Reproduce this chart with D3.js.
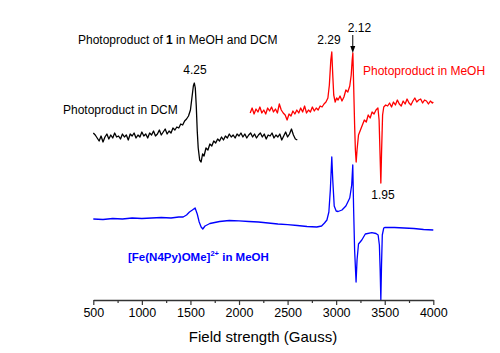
<!DOCTYPE html>
<html>
<head>
<meta charset="utf-8">
<script src="https://cdn.jsdelivr.net/npm/d3@7"></script>
<style>
  body { margin: 0; background: #fff; }
  text { font-family: "Liberation Sans", Arial, sans-serif; }
</style>
</head>
<body>
<script>
// Field positions (Gauss) and intensities (arbitrary units)
const dcmField = [500, 520, 540, 560, 580, 600, 620, 640, 660, 680, 700, 720, 740, 760, 780, 800, 820, 840, 860, 880,
    900, 920, 940, 960, 980, 1000, 1020, 1040, 1060, 1080, 1100, 1120, 1140, 1160, 1180, 1200, 1220, 1240, 1260, 1280,
    1300, 1320, 1340, 1360, 1380, 1400, 1420, 1440, 1460, 1480, 1500, 1515, 1530, 1540, 1550, 1560, 1570, 1580, 1595, 1610,
    1625, 1640, 1660, 1680, 1700, 1720, 1740, 1760, 1780, 1800, 1820, 1840, 1860, 1880, 1900, 1920, 1940, 1960, 1980, 2000,
    2020, 2040, 2060, 2080, 2100, 2120, 2140, 2160, 2180, 2200, 2220, 2240, 2260, 2280, 2300, 2320, 2340, 2360, 2380, 2400,
    2420, 2440, 2460, 2480, 2500, 2520, 2540, 2560, 2580, 2600];
const dcmSignal = [3, 1, -2, -5, 0, -6, -1, 2, -3, 1, -2, 3, -1, 0, -3, 2, -1, 1, -4, 2,
    0, 3, -2, 1, -1, 4, 0, 2, -2, 3, 1, 5, 0, 2, 6, 1, 4, 7, 2, 5,
    3, 8, 6, 9, 8, 12, 11, 15, 17, 20, 26, 38, 50, 53, 48, 30, 5, -12, -24, -26,
    -18, -20, -12, -14, -8, -10, -5, -7, -3, -5, -1, -4, 0, -2, 2, -1, 1, -2, 2, 0,
    3, -1, 2, -2, 1, 3, -1, 2, -2, 1, 3, -1, 2, -3, 1, 0, 3, -2, 1, -1,
    2, -4, 0, 4, -1, 2, 7, 1, -3, -4];

const meohField = [2115, 2135, 2155, 2175, 2195, 2215, 2235, 2255, 2275, 2295, 2315, 2335, 2355, 2375, 2395, 2415, 2435, 2455, 2475, 2495,
    2515, 2535, 2555, 2575, 2595, 2615, 2635, 2655, 2675, 2695, 2715, 2735, 2755, 2775, 2795, 2815, 2835, 2855, 2875, 2895,
    2915, 2930, 2945, 2955, 2965, 2975, 2990, 3005, 3020, 3040, 3060, 3080, 3100, 3120, 3140, 3155, 3165, 3172, 3180, 3190,
    3198, 3206, 3215, 3230, 3250, 3270, 3290, 3310, 3330, 3350, 3370, 3390, 3410, 3430, 3442, 3452, 3460, 3468, 3478, 3490,
    3510, 3530, 3550, 3570, 3590, 3610, 3630, 3650, 3670, 3690, 3710, 3730, 3750, 3770, 3790, 3810, 3830, 3850, 3870, 3890,
    3910, 3930, 3950, 3970, 3990, 4000];
const meohSignal = [-3, 2, -4, 1, -2, 3, -3, 0, -4, 2, -1, 3, -2, 1, -3, 6, 0, -3, -5, -10,
    -4, -6, -1, -4, 0, -3, 2, -2, 4, -3, 0, -2, 3, -1, 2, 0, 4, 3, 6, 8,
    12, 25, 50, 58, 35, 15, 8, 12, 10, 14, 9, 13, 20, 18, 24, 35, 50, 57, 25, -15,
    -40, -52, -40, -25, -20, -15, -10, -12, -5, -8, -2, -4, 0, 2, -10, -45, -73, -40, -5, 3,
    5, 4, 7, 3, 8, 5, 10, 6, 4, 9, 6, 11, 7, 5, 9, 12, 8, 10, 11, 7,
    10, 9, 6, 9, 7, 8];

const refField = [500, 600, 700, 800, 900, 1000, 1100, 1200, 1300, 1380, 1425, 1460, 1490, 1520, 1548, 1570, 1590, 1610, 1627, 1650,
    1700, 1750, 1800, 1900, 2000, 2100, 2200, 2300, 2400, 2500, 2600, 2700, 2800, 2850, 2880, 2905, 2925, 2940, 2955, 2965,
    2980, 3000, 3020, 3060, 3100, 3140, 3160, 3171, 3180, 3190, 3205, 3215, 3230, 3264, 3300, 3367, 3410, 3432, 3445, 3453,
    3460, 3467, 3475, 3490, 3504, 3550, 3600, 3700, 3800, 3900, 4000];
const refSignal = [1, 0.5, 1.5, 1, 2, 1.5, 2, 2.5, 2, 3, 3, 5, 8, 10, 12, 6, -2, -7, -9, -6,
    -3.5, -2.5, -1.5, -0.5, -0.8, -1.5, -2, -3, -4, -4.7, -5.5, -6.5, -7, -6, -3, 0, 8, 30, 63, 40,
    14, 9, 8.5, 10, 14, 22, 35, 55, 10, -30, -62, -40, -24, -20, -14, -12.7, -13.5, -15, -25, -50,
    -80, -45, -15, -8, -7.3, -7.5, -7.5, -8, -8.5, -9.5, -10];

// vertical offsets used to stack the spectra
const offsets = [84, 110, 0];
const colors = ['#000000', '#ff0000', '#0000ff'];

const xTicks = [500, 1000, 1500, 2000, 2500, 3000, 3500, 4000];
const xMinorTicks = [750, 1250, 1750, 2250, 2750, 3250, 3750];

const width = 500;
const height = 353;

const svg = d3.select('body').append('svg')
    .attr('width', width)
    .attr('height', height);

const x = d3.scaleLinear().domain([500, 4000]).range([93.3, 433.3]);
const y = d3.scaleLinear().domain([-100, 200]).range([320, 20]);

const series = [
    { field: dcmField, signal: dcmSignal },
    { field: meohField, signal: meohSignal },
    { field: refField, signal: refSignal }
];

const line = d3.line()
    .x(d => x(d[0]))
    .y(d => y(d[1]));

// Draw the spectra
series.forEach((s, i) => {
    const pts = s.field.map((f, j) => [f, s.signal[j] + offsets[i]]);
    svg.append('path')
        .datum(pts)
        .attr('fill', 'none')
        .attr('stroke', colors[i])
        .attr('stroke-width', 1.3)
        .attr('stroke-linejoin', 'round')
        .attr('d', line);
});

// Bottom axis, minor ticks first
const axisY = 300;
svg.append('g')
    .attr('transform', 'translate(0,' + axisY + ')')
    .call(d3.axisBottom(x).tickValues(xMinorTicks).tickSize(3).tickFormat(''))
    .call(g => g.select('.domain').remove())
    .selectAll('line').attr('stroke', '#333').attr('stroke-width', 1.2);

const xAxis = svg.append('g')
    .attr('transform', 'translate(0,' + axisY + ')')
    .call(d3.axisBottom(x).tickValues(xTicks).tickFormat(d3.format('d'))
        .tickSize(5).tickSizeOuter(0).tickPadding(3));
xAxis.select('.domain').attr('stroke', '#333').attr('stroke-width', 1.3);
xAxis.selectAll('line').attr('stroke', '#333').attr('stroke-width', 1.2);
xAxis.selectAll('text')
    .attr('fill', '#000')
    .style('font-size', '12.5px')
    .style('font-family', '"Liberation Sans", Arial, sans-serif');

svg.append('text')
    .attr('x', 263)
    .attr('y', 341.5)
    .attr('text-anchor', 'middle')
    .style('font-size', '15px')
    .text('Field strength (Gauss)');

// Annotations
const title = svg.append('text')
    .attr('x', 78)
    .attr('y', 44)
    .style('font-size', '12px');
title.append('tspan').text('Photoproduct of ');
title.append('tspan').style('font-weight', 'bold').text('1');
title.append('tspan').text(' in MeOH and DCM');

svg.append('text')
    .attr('x', 63).attr('y', 114)
    .style('font-size', '12px')
    .text('Photoproduct in DCM');

svg.append('text')
    .attr('x', 363).attr('y', 75)
    .attr('fill', '#ff0000')
    .style('font-size', '12px')
    .text('Photoproduct in MeOH');

const gLabels = [
    { text: '4.25', x: 195, y: 74 },
    { text: '2.29', x: 329, y: 44 },
    { text: '2.12', x: 359.5, y: 32 },
    { text: '1.95', x: 383, y: 199 }
];
svg.selectAll('.glabel')
    .data(gLabels)
    .enter().append('text')
    .attr('class', 'glabel')
    .attr('x', d => d.x)
    .attr('y', d => d.y)
    .attr('text-anchor', 'middle')
    .style('font-size', '12px')
    .text(d => d.text);

// arrow pointing at the 2.12 peak
const ax = x(3171);
svg.append('line')
    .attr('x1', ax).attr('x2', ax)
    .attr('y1', 35).attr('y2', 48)
    .attr('stroke', '#000')
    .attr('stroke-width', 1);
svg.append('path')
    .attr('d', `M${ax - 2.5},46 L${ax + 2.5},46 L${ax},53 Z`)
    .attr('fill', '#000');

const blueLabel = svg.append('text')
    .attr('x', 128).attr('y', 261)
    .attr('fill', '#0000ff')
    .style('font-size', '11.5px')
    .style('font-weight', 'bold');
blueLabel.append('tspan').text('[Fe(N4Py)OMe]');
blueLabel.append('tspan').attr('dy', -5).style('font-size', '7.5px').text('2+');
blueLabel.append('tspan').attr('dy', 5).text(' in MeOH');
</script>
</body>
</html>
